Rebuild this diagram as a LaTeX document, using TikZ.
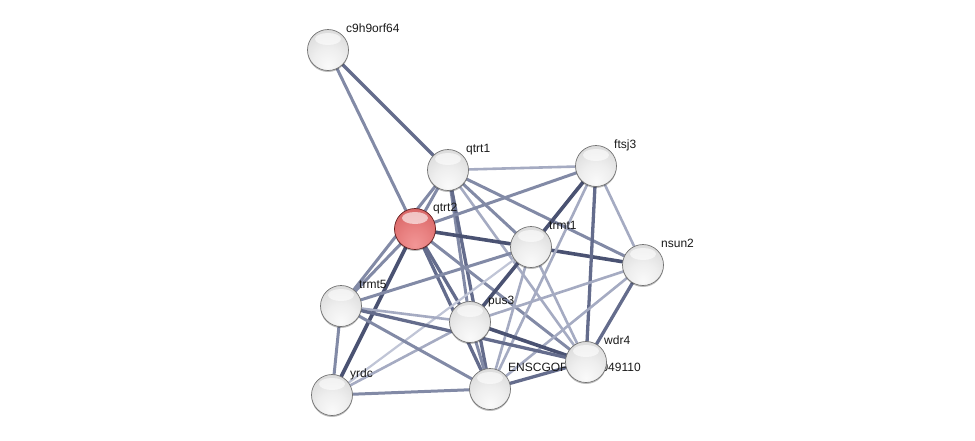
\documentclass[tikz,border=0pt]{standalone}
\usepackage{fontspec}
\setmainfont{Liberation Sans}
\usetikzlibrary{shadows}
\pgfdeclarelayer{bg}
\pgfsetlayers{bg,main}
\definecolor{edgeD}{RGB}{74,82,114}
\definecolor{edgeMD}{RGB}{100,108,140}
\definecolor{edgeM}{RGB}{130,138,166}
\definecolor{edgeL}{RGB}{165,171,194}
\definecolor{edgeXL}{RGB}{192,197,214}
\definecolor{rA}{RGB}{242,150,150}
\definecolor{rB}{RGB}{232,128,128}
\definecolor{rC}{RGB}{214,98,98}
\definecolor{rD}{RGB}{194,76,76}
\definecolor{rE}{RGB}{168,54,54}
\definecolor{gA}{RGB}{250,250,250}
\definecolor{gB}{RGB}{238,238,238}
\definecolor{gC}{RGB}{216,216,216}
\definecolor{gD}{RGB}{192,192,192}
\definecolor{gE}{RGB}{168,168,168}
\pgfdeclareradialshading{greyball}{\pgfpoint{0bp}{-20bp}}{color(0bp)=(gA); color(18bp)=(gB); color(38bp)=(gC); color(55bp)=(gD); color(70bp)=(gE)}
\pgfdeclareradialshading{redball}{\pgfpoint{0bp}{-20bp}}{color(0bp)=(rA); color(18bp)=(rB); color(38bp)=(rC); color(55bp)=(rD); color(70bp)=(rE)}
\tikzset{
  prot/.style={circle, minimum size=41pt, inner sep=0pt, draw=black!55, line width=0.7pt,
    shading=greyball,
    drop shadow={shadow xshift=0pt, shadow yshift=-1.5pt, fill=black, opacity=0.25},
    path picture={\fill[white, opacity=0.6] ([yshift=11pt]path picture bounding box.center) ellipse [x radius=13pt, y radius=6pt];}},
  query/.style={prot, shading=redball, draw=rE!60!black},
  lab/.style={anchor=base west, font=\fontsize{12}{14}\selectfont, text=black!90, inner sep=0pt},
  eD/.style={draw=edgeD, line width=3.6pt},
  eMD/.style={draw=edgeMD, line width=3.3pt},
  eM/.style={draw=edgeM, line width=3pt},
  eL/.style={draw=edgeL, line width=2.6pt},
  eXL/.style={draw=edgeXL, line width=2.2pt}
}
\begin{document}
\begin{tikzpicture}[x=1pt, y=-1pt]
\useasboundingbox (0,0) rectangle (975,440);
% nodes and labels
\node[prot] (c9) at (328,50) {};
\node[lab] (c9l) at ([shift={(18pt,18pt)}]c9.center) {c9h9orf64};
\node[prot] (qa) at (448,170) {};
\node[lab] (qal) at ([shift={(18pt,18pt)}]qa.center) {qtrt1};
\node[prot] (ft) at (596,166) {};
\node[lab] (ftl) at ([shift={(18pt,18pt)}]ft.center) {ftsj3};
\node[query] (qb) at (415,229) {};
\node[lab] (qbl) at ([shift={(18pt,18pt)}]qb.center) {qtrt2};
\node[prot] (t1) at (531,247) {};
\node[lab] (t1l) at ([shift={(18pt,18pt)}]t1.center) {trmt1};
\node[prot] (ns) at (643,265) {};
\node[lab] (nsl) at ([shift={(18pt,18pt)}]ns.center) {nsun2};
\node[prot] (t5) at (341,306) {};
\node[lab] (t5l) at ([shift={(18pt,18pt)}]t5.center) {trmt5};
\node[prot] (pu) at (470,322) {};
\node[lab] (pul) at ([shift={(18pt,18pt)}]pu.center) {pus3};
\node[prot] (yr) at (332,395) {};
\node[lab] (yrl) at ([shift={(18pt,18pt)}]yr.center) {yrdc};
\node[prot] (en) at (490,389) {};
\node[lab] (enl) at ([shift={(18pt,18pt)}]en.center) {ENSCGOP00000049110};
\node[prot] (wd) at (586,362) {};
\node[lab] (wdl) at ([shift={(18pt,18pt)}]wd.center) {wdr4};
% edges
\begin{pgfonlayer}{bg}
\draw[eMD] (c9.center) -- (qa.center);
\draw[eM]  (c9.center) -- (qb.center);
\draw[eL]  (qa.center) -- (ft.center);
\draw[eM]  (qa.center) -- (qb.center);
\draw[eM]  (qa.center) -- (t1.center);
\draw[eM]  (qa.center) -- (ns.center);
\draw[eL]  (qa.center) -- (wd.center);
\draw[eM]  (qa.center) -- (pu.center);
\draw[eMD] (qa.center) -- (en.center);
\draw[eM]  (qa.center) -- (t5.center);
\draw[eM]  (qb.center) -- (ft.center);
\draw[eD]  (qb.center) -- (t1.center);
\draw[eD]  (t1.center) -- (ns.center);
\draw[eMD] (qb.center) -- (pu.center);
\draw[eMD] (qb.center) -- (en.center);
\draw[eM]  (qb.center) -- (wd.center);
\draw[eM]  (qb.center) -- (t5.center);
\draw[eD]  (qb.center) -- (yr.center);
\draw[eD]  (t1.center) -- (ft.center);
\draw[eD]  (t1.center) -- (pu.center);
\draw[eM]  (t1.center) -- (t5.center);
\draw[eXL] (t1.center) -- (yr.center);
\draw[eL]  (t1.center) -- (en.center);
\draw[eL]  (t1.center) -- (wd.center);
\draw[eL]  (ft.center) -- (ns.center);
\draw[eMD] (ft.center) -- (wd.center);
\draw[eL]  (ft.center) -- (en.center);
\draw[eMD] (ns.center) -- (wd.center);
\draw[eL]  (ns.center) -- (pu.center);
\draw[eL]  (ns.center) -- (en.center);
\draw[eL]  (pu.center) -- (t5.center);
\draw[eD]  (pu.center) -- (wd.center);
\draw[eM]  (pu.center) -- (en.center);
\draw[eL]  (pu.center) -- (yr.center);
\draw[eMD] (t5.center) -- (wd.center);
\draw[eM]  (t5.center) -- (en.center);
\draw[eM]  (t5.center) -- (yr.center);
\draw[eM]  (yr.center) -- (en.center);
\draw[eMD] (en.center) -- (wd.center);
\end{pgfonlayer}
\end{tikzpicture}
\end{document}
